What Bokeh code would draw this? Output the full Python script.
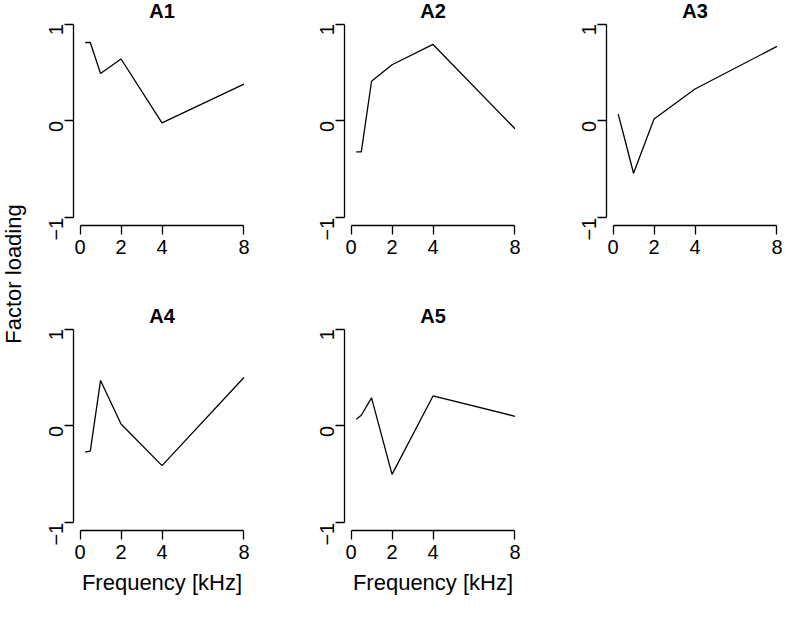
import math
from bokeh.plotting import figure
from bokeh.layouts import row, column
from bokeh.models import Range1d, FixedTicker, Label
from bokeh.embed import file_html
from bokeh.resources import INLINE

# ---- data -------------------------------------------------------------
freq_khz = [0.25, 0.5, 1, 2, 4, 8]
A1 = [0.81, 0.81, 0.49, 0.64, -0.02, 0.38]
A2 = [-0.32, -0.32, 0.41, 0.58, 0.79, -0.08]
A3 = [0.07, -0.13, -0.54, 0.02, 0.33, 0.77]
A4 = [-0.27, -0.26, 0.47, 0.02, -0.41, 0.50]
A5 = [0.07, 0.11, 0.29, -0.50, 0.31, 0.10]
panel_names = ["A1", "A2", "A3", "A4", "A5"]
panel_values = [A1, A2, A3, A4, A5]
x_ticks = [0, 2, 4, 8]
y_ticks = [-1, 0, 1]
x_label = "Frequency [kHz]"
y_label = "Factor loading"

# ---- layout / style ---------------------------------------------------
FONT = "Liberation Sans"
LEFT_W = 32
FRAME_W = 177
FRAME_H = 225
COL_BL = [41, 45, 45]
COL_W = [267, 262, 45 + FRAME_W]
ROW_H = [305, 297]
Y_TOP = 1.244          # frame top (room for the panel title)
TITLE_Y = 1.134        # title baseline position


def panel(name, vals, col, bottom_row):
    w = COL_W[col]
    bl = COL_BL[col]
    h = ROW_H[1] if bottom_row else ROW_H[0]
    br = w - bl - FRAME_W
    bb = h - FRAME_H
    p = figure(width=w, height=h,
               output_backend="svg", toolbar_location=None,
               x_range=Range1d(-0.32, 8.32), y_range=Range1d(-1.08, Y_TOP),
               min_border_left=bl, min_border_right=br,
               min_border_top=0, min_border_bottom=bb)
    p.outline_line_color = None
    p.grid.visible = False
    p.line(freq_khz, vals, line_color="black", line_width=1.3)
    for ax in (p.xaxis[0], p.yaxis[0]):
        ax.axis_line_color = "black"
        ax.axis_line_width = 1.3
        ax.major_tick_line_width = 1.3
        ax.major_tick_line_color = "black"
        ax.major_tick_out = 9
        ax.major_tick_in = 0
        ax.minor_tick_line_color = None
        ax.major_label_text_font = FONT
        ax.major_label_text_font_size = "20px"
        ax.major_label_text_color = "black"
    p.xaxis.ticker = FixedTicker(ticks=x_ticks)
    p.yaxis.ticker = FixedTicker(ticks=y_ticks)
    p.xaxis.bounds = (min(x_ticks), max(x_ticks))
    p.yaxis.bounds = (min(y_ticks), max(y_ticks))
    p.xaxis.major_label_standoff = 5
    p.yaxis.major_label_standoff = 8
    p.yaxis.major_label_orientation = math.pi / 2
    if bottom_row:
        p.xaxis.axis_label = x_label
        p.xaxis.axis_label_text_font = FONT
        p.xaxis.axis_label_text_font_size = "22px"
        p.xaxis.axis_label_text_font_style = "normal"
        p.xaxis.axis_label_text_color = "black"
        p.xaxis.axis_label_standoff = 8
    p.add_layout(Label(x=(min(x_ticks) + max(x_ticks)) / 2, y=TITLE_Y,
                       text=name, text_align="center",
                       text_baseline="alphabetic", text_color="black",
                       text_font=FONT, text_font_size="20px",
                       text_font_style="bold"))
    return p


figs = [panel(nm, v, i % 3, i >= 3)
        for i, (nm, v) in enumerate(zip(panel_names, panel_values))]

total_h = ROW_H[0] + ROW_H[1]
lab = figure(width=LEFT_W, height=total_h, output_backend="svg",
             toolbar_location=None, x_range=Range1d(0, 1),
             y_range=Range1d(0, 1), min_border=0)
lab.axis.visible = False
lab.grid.visible = False
lab.outline_line_color = None
lab.add_layout(Label(x=0.42, y=1 - (281.5 - 8) / total_h, text=y_label,
                     angle=math.pi / 2, text_align="center",
                     text_baseline="middle", text_color="black",
                     text_font=FONT, text_font_size="22px"))

grid = column(row(figs[0], figs[1], figs[2], spacing=0),
              row(figs[3], figs[4], spacing=0), spacing=0)
layout = row(lab, grid, spacing=0)

open("out.html", "w").write(file_html(layout, INLINE))
